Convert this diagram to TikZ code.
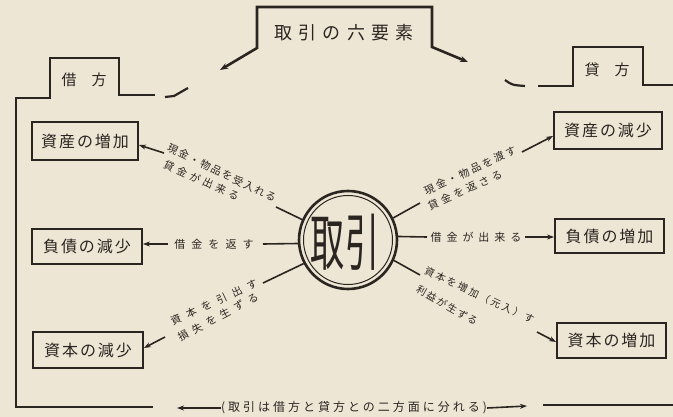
\documentclass[tikz,border=0pt]{standalone}
\usepackage{fontspec}
\setmainfont{Noto Sans CJK JP}
\usetikzlibrary{arrows.meta}
\definecolor{paper}{HTML}{EEE6D4}
\definecolor{ink}{HTML}{2B2522}
\newcommand{\fs}[2]{\fontsize{#1}{#1}\selectfont\addfontfeature{LetterSpace=#2}}
\tikzset{
  box/.style={draw=ink, line width=1.8pt, minimum width=108pt, minimum height=36pt, inner sep=0pt, text=ink, font=\fs{16}{12}},
  lbl/.style={inner sep=0pt, text=ink},
  con/.style={draw=ink, line width=1.6pt},
  arr/.style={con, -{Stealth[length=7pt,width=5pt]}},
  frame/.style={draw=ink, line width=2.2pt, line join=miter},
}
\begin{document}
\begin{tikzpicture}[x=1pt,y=-1pt]
\fill[paper] (0,0) rectangle (673,417);
\useasboundingbox (0,0) rectangle (673,417);

% title
\node[lbl, font=\fs{18}{35}] (title) at (344,33) {取引の六要素};
\coordinate (tl) at (220,70);
\coordinate (tr) at (468,62);
\draw[frame, line width=2.6pt, {Stealth[length=8pt,width=6pt]}-{Stealth[length=8pt,width=6pt]}]
  (tl) -- (257,48) -- (257,7) -- (432,7) -- (432,47) -- (tr);

% debit frame
\node[lbl, font=\fs{15}{0}] (debit) at (84,80) {借　方};
\draw[frame] (155,95) -- (119,95) -- (119,58) -- (50,58) -- (50,98) -- (16,98) -- (16,407) -- (153,407);
\draw[frame] (165,97) -- (174,96) -- (188,88);
% credit frame
\node[lbl, font=\fs{15}{0}] (credit) at (607,70) {貸　方};
\draw[frame] (538,86) -- (573,86) -- (573,47) -- (643,47) -- (643,85) -- (673,85);
\draw[frame] (505,80) .. controls (512,85) .. (525,86);
\draw[frame] (543,405) -- (673,405);

% boxes
\node[box, minimum width=106pt, minimum height=38pt] (L1) at (85,141) {資産の増加};
\node[box, minimum width=110pt, minimum height=35pt] (L2) at (87,246.5) {負債の減少};
\node[box, minimum width=110pt, minimum height=36pt] (L3) at (88,350) {資本の減少};
\node[box, minimum width=108pt, minimum height=37pt] (R1) at (608,130.5) {資産の減少};
\node[box, minimum width=109pt, minimum height=34pt] (R2) at (609.5,236) {負債の増加};
\node[box, minimum width=109pt, minimum height=35pt] (R3) at (611.5,340.5) {資本の増加};

% centre circle
\node[circle, draw=ink, line width=2.6pt, minimum size=98pt, inner sep=0pt] (tor) at (348,240) {};
\node[circle, draw=ink, line width=1pt, minimum size=89pt, inner sep=0pt] (torin) at (348,240) {};
\node[lbl, font=\fontsize{62}{62}\selectfont, xscale=0.55] (torx) at (345,242) {取引};

% spokes and arrows
\coordinate (sLU) at (276,207);
\coordinate (sLM) at (263,244);
\coordinate (sLL) at (263,283);
\coordinate (sRU) at (420,203);
\coordinate (sRM) at (427,237);
\coordinate (sRL) at (420,275);
\draw[con] (tor.156) -- (sLU);
\draw[con] (tor.184) -- (sLM);
\draw[con] (tor.208) -- (sLL);
\draw[con] (tor.26) -- (sRU);
\draw[con] (tor.4) -- (sRM);
\draw[con] (tor.-24) -- (sRL);

\coordinate (aLU) at (164,153);
\coordinate (aLM) at (168,244);
\coordinate (aLL) at (165,337);
\coordinate (aRU) at (522,152);
\coordinate (aRM) at (525,237);
\coordinate (aRL) at (537,332);
\draw[arr] (aLU) -- (L1.east |- 0,145);
\draw[arr] (aLM) -- (L2.east |- 0,244);
\draw[arr] (aLL) -- (L3.east |- 0,348);
\draw[arr] (aRU) -- (R1.west |- 0,136);
\draw[arr] (aRM) -- (R2.west |- 0,237);
\draw[arr] (aRL) -- (R3.west |- 0,342);

% labels
\node[lbl, font=\fs{10.5}{15}, rotate=-25.7, anchor=west] (tLU1) at (168,147) {現金・物品を受入れる};
\node[lbl, font=\fs{10.5}{36}, rotate=-24.5, anchor=west] (tLU2) at (164,163.5) {貸金が出来る};
\node[lbl, font=\fs{11}{55}] (tLM) at (214,244) {借金を返す};
\node[lbl, font=\fs{10.5}{60}, rotate=25] (tLL1) at (214,302) {資本を引出す};
\node[lbl, font=\fs{10.5}{50}, rotate=28] (tLL2) at (218,317) {損失を生ずる};
\node[lbl, font=\fs{10.5}{22}, rotate=25] (tRU1) at (470,170.5) {現金・物品を渡す};
\node[lbl, font=\fs{10.5}{33}, rotate=24.4] (tRU2) at (465,190) {貸金を返さる};
\node[lbl, font=\fs{11}{45}] (tRM) at (476,237) {借金が出来る};
\node[lbl, font=\fs{10}{22}, rotate=-25, anchor=west] (tRL1) at (425,270) {資本を増加（元入）す};
\node[lbl, font=\fs{10}{18}, rotate=-30, anchor=west] (tRL2) at (417,288) {利益が生ずる};

% bottom
\node[lbl, font=\fs{12}{25}] (bottom) at (354,408) {(取引は借方と貸方との二方面に分れる)};
\coordinate (bl) at (177,408);
\coordinate (br) at (527,406);
\draw[arr] (bottom.west) -- (bl);
\draw[arr] (bottom.east) -- (br);
\end{tikzpicture}
\end{document}
